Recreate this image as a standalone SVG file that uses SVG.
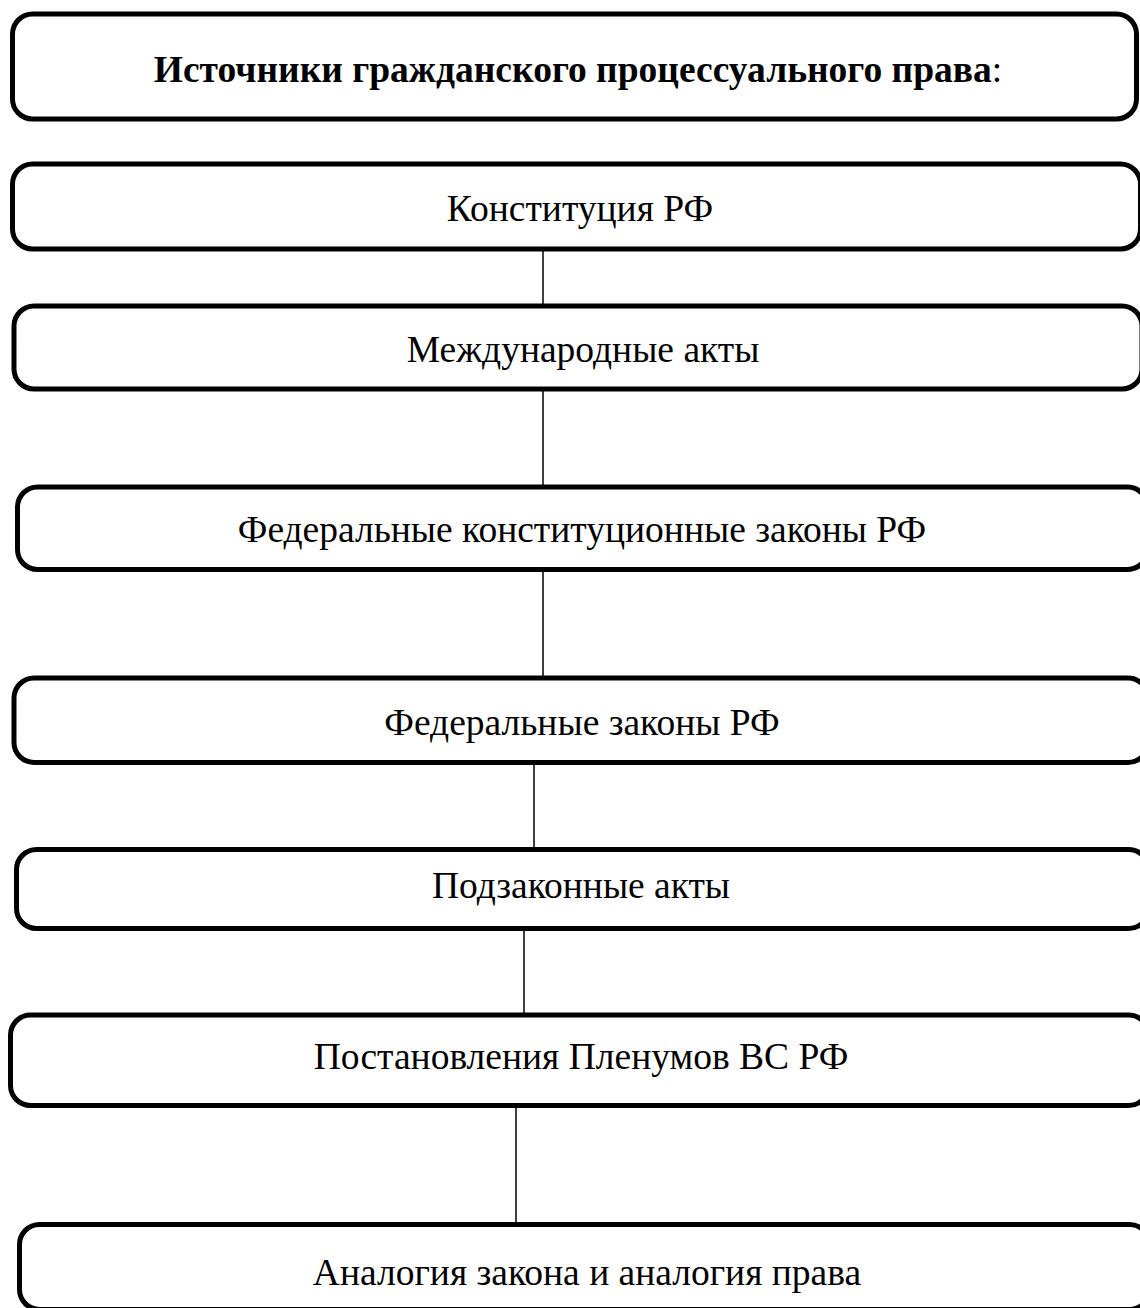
<svg xmlns="http://www.w3.org/2000/svg" width="1140" height="1308" viewBox="0 0 1140 1308">
<style>
.box{fill:#fff;stroke:#000;stroke-width:5}
.t{font-family:"Liberation Serif","Times New Roman",serif;font-size:37.5px;fill:#000;text-anchor:middle}
.b{font-weight:bold}
.c{stroke:#000;stroke-width:1.5;fill:none}
</style>
<rect width="1140" height="1308" fill="#fff"/>
<g id="connectors">
<line class="c" x1="543" y1="251" x2="543" y2="304"/>
<line class="c" x1="543" y1="391" x2="543" y2="485"/>
<line class="c" x1="543" y1="572" x2="543" y2="676"/>
<line class="c" x1="534" y1="765" x2="534" y2="847"/>
<line class="c" x1="524" y1="931" x2="524" y2="1013"/>
<line class="c" x1="516" y1="1108" x2="516" y2="1222"/>
</g>
<g id="n0"><rect class="box" x="12.5" y="14" width="1124" height="105" rx="20"/>
<text class="t" x="578" y="82"><tspan class="b">Источники гражданского процессуального права</tspan>:</text></g>
<g id="n1"><rect class="box" x="12.5" y="164" width="1128" height="85" rx="20"/>
<text class="t" x="580" y="221">Конституция РФ</text></g>
<g id="n2"><rect class="box" x="14" y="306" width="1128" height="83" rx="20"/>
<text class="t" x="583" y="362">Международные акты</text></g>
<g id="n3"><rect class="box" x="17.5" y="487" width="1130" height="82.5" rx="20"/>
<text class="t" x="582" y="542">Федеральные конституционные законы РФ</text></g>
<g id="n4"><rect class="box" x="14" y="678" width="1134" height="84.5" rx="20"/>
<text class="t" x="582" y="735">Федеральные законы РФ</text></g>
<g id="n5"><rect class="box" x="16.5" y="849.5" width="1132" height="79" rx="20"/>
<text class="t" x="581" y="898">Подзаконные акты</text></g>
<g id="n6"><rect class="box" x="10.5" y="1015" width="1138" height="90.5" rx="20"/>
<text class="t" x="581" y="1069">Постановления Пленумов ВС РФ</text></g>
<g id="n7"><rect class="box" x="19.5" y="1224.5" width="1130" height="85" rx="20"/>
<text class="t" x="587" y="1285">Аналогия закона и аналогия права</text></g>
</svg>
